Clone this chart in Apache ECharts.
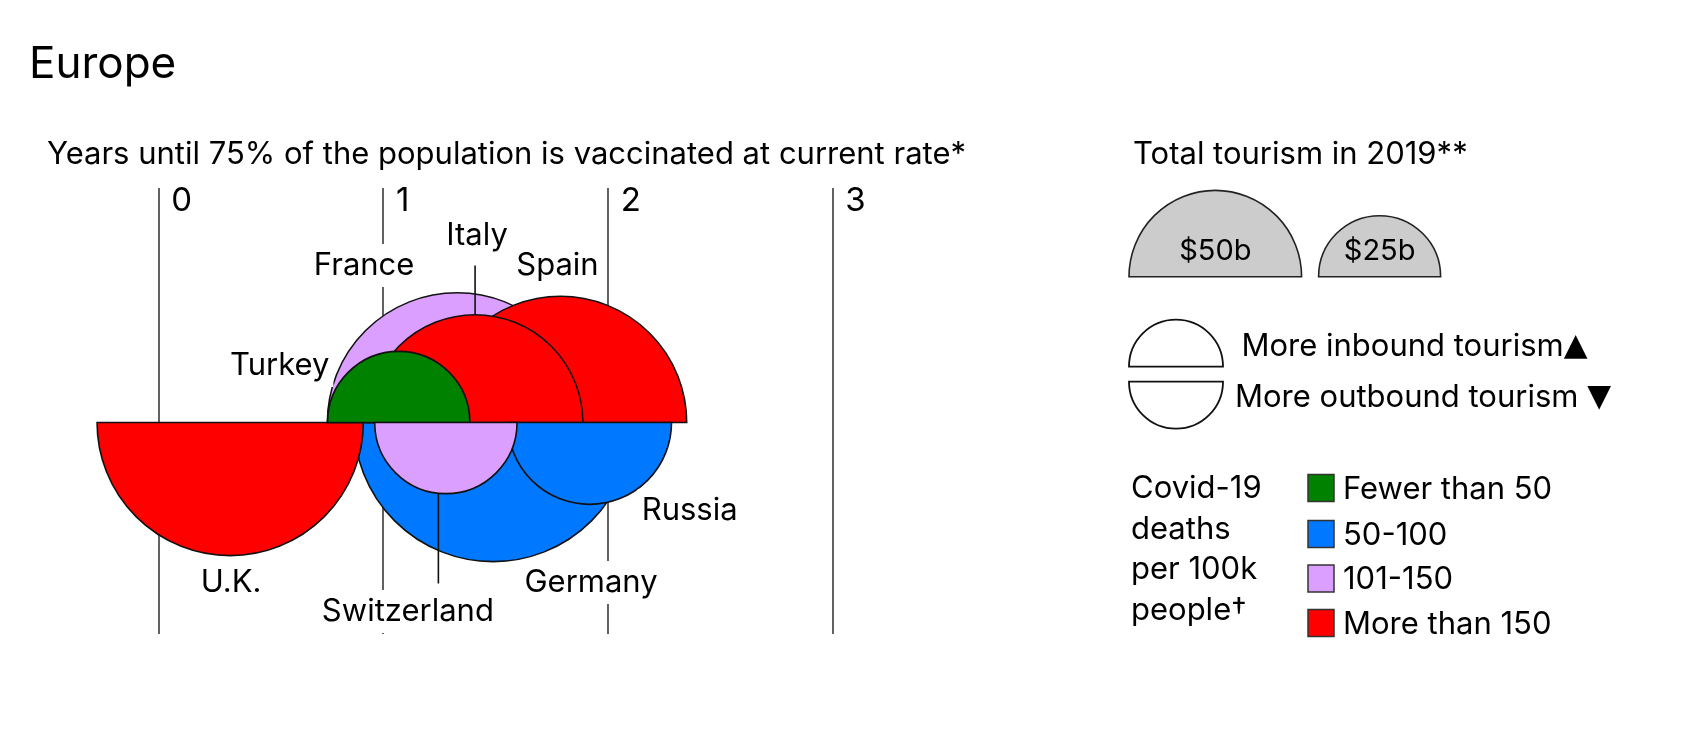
<!DOCTYPE html>
<html>
<head>
<meta charset="utf-8">
<script src="https://cdn.jsdelivr.net/npm/echarts@6/dist/echarts.min.js"></script>
<style>
  html, body { margin: 0; padding: 0; background: #fff; }
  #chart { width: 1696px; height: 732px; }
</style>
</head>
<body>
<div id="chart"></div>
<script>
// ---------------- data ----------------
const countries       = ['U.K.', 'Germany', 'France', 'Spain', 'Italy', 'Russia', 'Turkey', 'Switzerland'];
const yearsTo75       = [0.32, 1.49, 1.33, 1.79, 1.41, 1.92, 1.07, 1.28];
const tourismBn       = [119, 130, 113, 107, 78, 45, 34, 34];
const tourismBalance  = ['outbound', 'outbound', 'inbound', 'inbound', 'inbound', 'outbound', 'inbound', 'outbound'];
const deathBand       = ['More than 150', '50-100', '101-150', 'More than 150', 'More than 150', '50-100', 'Fewer than 50', '101-150'];
const deathBands      = ['Fewer than 50', '50-100', '101-150', 'More than 150'];
const xTickValues     = [0, 1, 2, 3];
const sizeLegendBn    = [50, 25];
const sizeLegendText  = ['$50b', '$25b'];

// ---------------- styles / layout ----------------
const FONT = 'Inter, "Liberation Sans", sans-serif';
const bandColors = { 'Fewer than 50': '#008200', '50-100': '#0078ff', '101-150': '#dba0ff', 'More than 150': '#ff0000' };
const RADIUS_PER_SQRT_BN = 0.05432; // x-axis years per sqrt($bn)
// label offsets (px) relative to the semicircle centre on the baseline
const labelLayout = {
  'U.K.':        { dx: 1,    dy: 160 },
  'Germany':     { dx: 98,   dy: 160 },
  'France':      { dx: -93,  dy: -157 },
  'Spain':       { dx: -3,   dy: -157 },
  'Italy':       { dx: 2,    dy: -187, leader: -157, leaderDx: 0 },
  'Russia':      { dx: 100,  dy: 88 },
  'Turkey':      { dx: -119, dy: -57 },
  'Switzerland': { dx: -38,  dy: 189, leader: 161, leaderDx: -7.5 }
};

const seriesData = countries.map((c, i) => [
  yearsTo75[i], tourismBn[i], tourismBalance[i] === 'inbound' ? 1 : -1,
  deathBands.indexOf(deathBand[i]), i
]).sort((a, b) => b[1] - a[1]);

const chart = echarts.init(document.getElementById('chart'), null, { renderer: 'canvas' });

function renderItem(params, api) {
  const idx = api.value(4);
  const name = countries[idx];
  const up = api.value(2) > 0;
  const p = api.coord([api.value(0), 0]);
  const r = api.size([RADIUS_PER_SQRT_BN * Math.sqrt(api.value(1)), 0])[0];
  const lay = labelLayout[name];
  const children = [];
  if (lay.leader != null) {
    const lx = p[0] + lay.leaderDx;
    children.push({
      type: 'line',
      shape: { x1: lx, y1: p[1] + lay.leader, x2: lx, y2: p[1] },
      style: { stroke: '#111', lineWidth: 1.6 }
    });
  }
  children.push({
    type: 'sector',
    shape: {
      cx: p[0], cy: p[1], r: r, r0: 0,
      startAngle: up ? Math.PI : 0,
      endAngle: up ? 2 * Math.PI : Math.PI,
      clockwise: true
    },
    style: { fill: bandColors[deathBands[api.value(3)]], stroke: '#111', lineWidth: 1.6 }
  });
  children.push({
    type: 'text',
    x: p[0] + lay.dx, y: p[1] + lay.dy,
    style: {
      text: name, fill: '#000', fontSize: 31, fontFamily: FONT,
      align: 'center', verticalAlign: 'middle',
      backgroundColor: '#fff', padding: [6, 4]
    }
  });
  return { type: 'group', children: children };
}

chart.setOption({
  animation: false,
  backgroundColor: '#fff',
  grid: { left: 158.3, top: 188, width: 674, height: 446 },
  xAxis: {
    type: 'value', position: 'top', min: 0, max: 3, interval: 1,
    axisLine: { show: false }, axisTick: { show: false },
    splitLine: { show: true, lineStyle: { color: '#3a3a3a', width: 1.6 } },
    axisLabel: {
      inside: true, margin: 0, align: 'left', verticalAlign: 'top',
      padding: [0, 0, 0, 13], fontSize: 33, lineHeight: 26, color: '#000', fontFamily: FONT,
      formatter: v => xTickValues.indexOf(v) >= 0 ? String(v) : ''
    }
  },
  yAxis: { type: 'value', min: -211.5, max: 234.5, show: false },
  series: [{
    type: 'custom', clip: false, silent: true,
    renderItem: renderItem,
    data: seriesData
  }]
});

// ---------------- legend / titles (graphic) ----------------
const ppy = chart.convertToPixel({ xAxisIndex: 0 }, 1) - chart.convertToPixel({ xAxisIndex: 0 }, 0);
const txt = (text, x, y, size, align) => ({
  type: 'text', x: x, y: y, silent: true,
  style: { text: text, fill: '#000', fontSize: size, fontFamily: FONT, align: align || 'left', verticalAlign: 'middle' }
});
const richTxt = (text, x, y) => ({
  type: 'text', x: x, y: y, silent: true,
  style: {
    text: text, fill: '#000', fontSize: 31, fontFamily: FONT, align: 'left', verticalAlign: 'middle',
    rich: { tri: { fontSize: 31, fontFamily: '"DejaVu Sans", sans-serif', fill: '#000' } }
  }
});
const g = [];
g.push(txt('Europe', 29, 65, 44));
g.push(txt('Years until 75% of the population is vaccinated at current rate*', 47, 155, 31));
g.push(txt('Total tourism in 2019**', 1133, 154.5, 31));

// size legend
const baseY = 276.7;
let cx = 1129;
sizeLegendBn.forEach((v, i) => {
  const r = RADIUS_PER_SQRT_BN * Math.sqrt(v) * ppy;
  const c = cx + r;
  g.push({ type: 'sector', silent: true,
    shape: { cx: c, cy: baseY, r: r, r0: 0, startAngle: Math.PI, endAngle: 2 * Math.PI, clockwise: true },
    style: { fill: '#cccccc', stroke: '#222', lineWidth: 1.6 } });
  g.push(txt(sizeLegendText[i], c, 251, 29, 'center'));
  cx = c + r + 17;
});

// direction legend
g.push({ type: 'sector', silent: true,
  shape: { cx: 1176, cy: 366.7, r: 47, r0: 0, startAngle: Math.PI, endAngle: 2 * Math.PI, clockwise: true },
  style: { fill: '#fff', stroke: '#111', lineWidth: 1.8 } });
g.push({ type: 'sector', silent: true,
  shape: { cx: 1176, cy: 381.7, r: 47, r0: 0, startAngle: 0, endAngle: Math.PI, clockwise: true },
  style: { fill: '#fff', stroke: '#111', lineWidth: 1.8 } });
g.push(richTxt('More inbound tourism{tri|▲}', 1241.5, 346.5));
g.push(richTxt('More outbound tourism {tri|▼}', 1235, 397.5));

// colour legend
['Covid-19', 'deaths', 'per 100k', 'people†'].forEach((t, i) => g.push(txt(t, 1131, 489 + i * 40.5, 31)));
const bandY = [488, 534, 578.5, 623];
deathBands.forEach((b, i) => {
  g.push({ type: 'rect', silent: true,
    shape: { x: 1308, y: bandY[i] - 13.5, width: 26, height: 27 },
    style: { fill: bandColors[b], stroke: '#333', lineWidth: 1.5 } });
  g.push(txt(b, 1343, bandY[i] + 1.5, 31));
});

chart.setOption({ graphic: g });
</script>
</body>
</html>
